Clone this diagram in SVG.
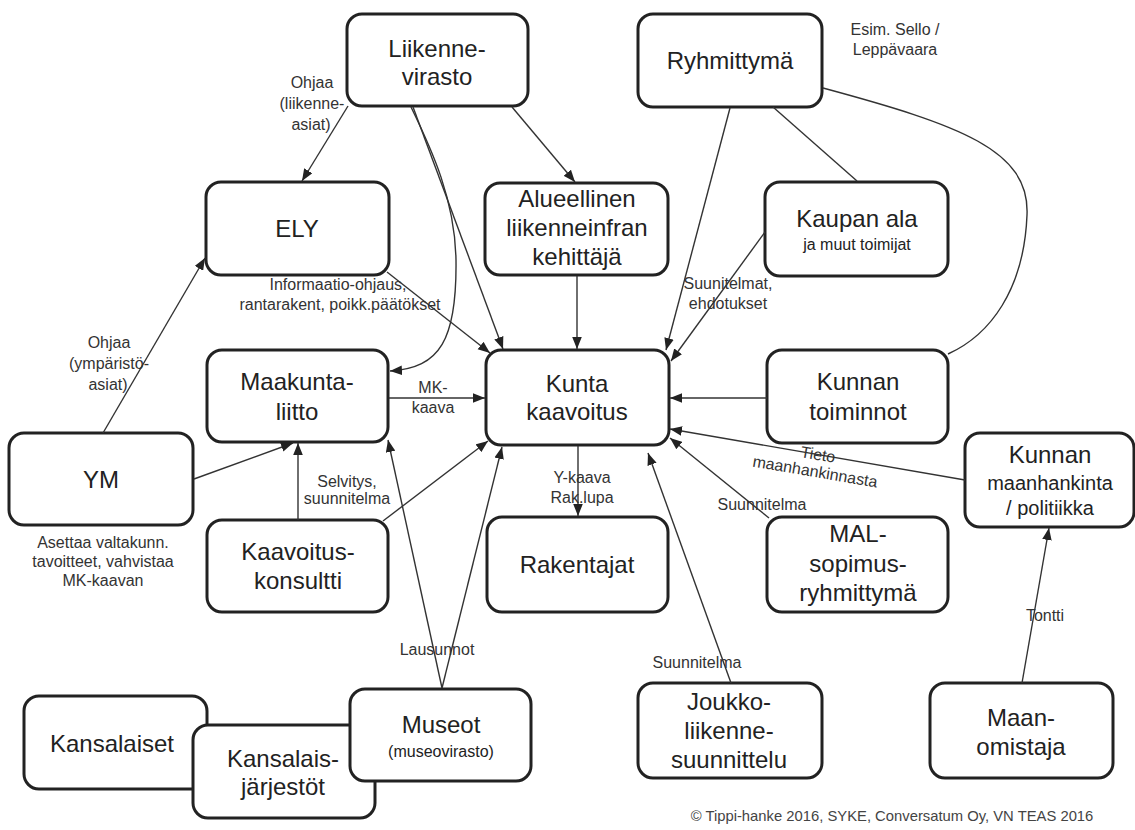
<svg xmlns="http://www.w3.org/2000/svg" width="1135" height="830" viewBox="0 0 1135 830">
<defs>
<style>
.box{fill:#fff;stroke:#222;stroke-width:3}
.t{font-family:"Liberation Sans",Arial,sans-serif;font-size:24px;fill:#222;text-anchor:middle}
.m{font-size:20px}
.s{font-size:16px}
.l{font-family:"Liberation Sans",Arial,sans-serif;font-size:16px;fill:#333;text-anchor:middle}
.e{fill:none;stroke:#333;stroke-width:1.4}
.a{marker-end:url(#arr)}
</style>
<marker id="arr" markerUnits="userSpaceOnUse" markerWidth="12" markerHeight="10" refX="10" refY="4" orient="auto" viewBox="0 0 10 8">
<path d="M0,0 L10,4 L0,8 Z" fill="#222"/>
</marker>
</defs>
<rect width="1135" height="830" fill="#fff"/>

<g id="n-liikennevirasto"><rect class="box" x="347" y="14" width="181" height="92" rx="15"/><text class="t" x="437" y="57">Liikenne-</text><text class="t" x="437" y="85">virasto</text></g>
<g id="n-ryhmittyma"><rect class="box" x="638" y="14" width="184" height="93" rx="15"/><text class="t" x="730" y="69">Ryhmittymä</text></g>
<g id="n-ely"><rect class="box" x="206" y="182" width="183" height="93" rx="15"/><text class="t" x="297" y="237">ELY</text></g>
<g id="n-alueellinen"><rect class="box" x="485" y="183" width="183" height="92" rx="15"/><text class="t" x="577" y="207">Alueellinen</text><text class="t" x="577" y="236">liikenneinfran</text><text class="t" x="577" y="265">kehittäjä</text></g>
<g id="n-kaupan"><rect class="box" x="765" y="182" width="183" height="94" rx="15"/><text class="t" x="857" y="227">Kaupan ala</text><text class="t s" x="857" y="250">ja muut toimijat</text></g>
<g id="n-maakunta"><rect class="box" x="207" y="350" width="181" height="92" rx="15"/><text class="t" x="297" y="390">Maakunta-</text><text class="t" x="297" y="420">liitto</text></g>
<g id="n-kunta"><rect class="box" x="486" y="350" width="183" height="95" rx="15"/><text class="t" x="577" y="392">Kunta</text><text class="t" x="577" y="420">kaavoitus</text></g>
<g id="n-kunnantoiminnot"><rect class="box" x="767" y="350" width="181" height="93" rx="15"/><text class="t" x="858" y="390">Kunnan</text><text class="t" x="858" y="420">toiminnot</text></g>
<g id="n-ym"><rect class="box" x="9" y="433" width="184" height="92" rx="15"/><text class="t" x="101" y="488">YM</text></g>
<g id="n-maanhankinta"><rect class="box" x="965" y="433" width="169" height="94" rx="15"/><text class="t" x="1050" y="463">Kunnan</text><text class="t m" x="1050" y="490">maanhankinta</text><text class="t m" x="1050" y="515">/ politiikka</text></g>
<g id="n-konsultti"><rect class="box" x="207" y="520" width="181" height="92" rx="15"/><text class="t" x="298" y="560">Kaavoitus-</text><text class="t" x="298" y="589">konsultti</text></g>
<g id="n-rakentajat"><rect class="box" x="487" y="517" width="181" height="95" rx="15"/><text class="t" x="577" y="573">Rakentajat</text></g>
<g id="n-mal"><rect class="box" x="767" y="517" width="181" height="95" rx="15"/><text class="t" x="858" y="542">MAL-</text><text class="t" x="858" y="572">sopimus-</text><text class="t" x="858" y="601">ryhmittymä</text></g>
<g id="n-kansalaiset"><rect class="box" x="24" y="696" width="183" height="93" rx="15"/><text class="t" x="112" y="752">Kansalaiset</text></g>
<g id="n-jarjestot"><rect class="box" x="193" y="725" width="182" height="93" rx="15"/><text class="t" x="283" y="767">Kansalais-</text><text class="t" x="283" y="795">järjestöt</text></g>
<g id="n-museot"><rect class="box" x="350" y="689" width="181" height="92" rx="15"/><text class="t" x="441" y="733">Museot</text><text class="t s" x="441" y="757">(museovirasto)</text></g>
<g id="n-joukko"><rect class="box" x="638" y="683" width="184" height="95" rx="15"/><text class="t" x="729" y="710">Joukko-</text><text class="t" x="729" y="739">liikenne-</text><text class="t" x="729" y="768">suunnittelu</text></g>
<g id="n-maanomistaja"><rect class="box" x="930" y="683" width="183" height="95" rx="15"/><text class="t" x="1021" y="726">Maan-</text><text class="t" x="1021" y="755">omistaja</text></g>

<g id="connectors">
<line class="e a" x1="348" y1="106" x2="302" y2="181"/>
<line class="e a" x1="512" y1="107" x2="575" y2="182"/>
<line class="e a" x1="413" y1="107" x2="503" y2="349"/>
<path class="e a" d="M411,107 C432,150 455,200 456,260 C457,340 440,368 390,371"/>
<line class="e a" x1="387" y1="272" x2="490" y2="353"/>
<line class="e a" x1="577" y1="276" x2="577" y2="349"/>
<line class="e a" x1="730" y1="108" x2="666" y2="350"/>
<line class="e" x1="773" y1="107" x2="857" y2="181"/>
<path class="e" d="M823,88 C960,125 1030,150 1027,215 C1024,290 990,335 948,354"/>
<line class="e a" x1="765" y1="232" x2="671" y2="361"/>
<line class="e a" x1="767" y1="398" x2="670" y2="398"/>
<line class="e a" x1="965" y1="480" x2="670" y2="429"/>
<line class="e a" x1="769" y1="518" x2="670" y2="438"/>
<line class="e a" x1="731" y1="683" x2="648" y2="453"/>
<line class="e a" x1="578" y1="446" x2="578" y2="516"/>
<line class="e a" x1="389" y1="398" x2="485" y2="398"/>
<line class="e a" x1="103" y1="433" x2="205" y2="258"/>
<line class="e a" x1="194" y1="479" x2="293" y2="443"/>
<line class="e a" x1="298" y1="520" x2="298" y2="443"/>
<line class="e a" x1="383" y1="521" x2="488" y2="441"/>
<line class="e a" x1="442" y1="688" x2="388" y2="440"/>
<line class="e a" x1="442" y1="688" x2="502" y2="447"/>
<line class="e a" x1="1022" y1="683" x2="1049" y2="528"/>
</g>

<g id="labels">
<text class="l" x="312" y="88">Ohjaa</text>
<text class="l" x="312" y="109">(liikenne-</text>
<text class="l" x="311" y="130">asiat)</text>
<text class="l" x="895" y="35">Esim. Sello /</text>
<text class="l" x="895" y="55">Leppävaara</text>
<text class="l" x="338" y="290">Informaatio-ohjaus,</text>
<text class="l" x="340" y="310">rantarakent, poikk.päätökset</text>
<text class="l" x="728" y="289">Suunitelmat,</text>
<text class="l" x="728" y="309">ehdotukset</text>
<text class="l" x="433" y="393">MK-</text>
<text class="l" x="433" y="413">kaava</text>
<text class="l" x="109" y="348">Ohjaa</text>
<text class="l" x="109" y="369">(ympäristö-</text>
<text class="l" x="108" y="390">asiat)</text>
<text class="l" x="347" y="487">Selvitys,</text>
<text class="l" x="347" y="504">suunnitelma</text>
<text class="l" x="103" y="548">Asettaa valtakunn.</text>
<text class="l" x="103" y="567">tavoitteet, vahvistaa</text>
<text class="l" x="103" y="586">MK-kaavan</text>
<text class="l" x="582" y="483">Y-kaava</text>
<text class="l" x="582" y="503">Rak.lupa</text>
<text class="l" x="818" y="460" transform="rotate(9.6 818 455)">Tieto</text>
<text class="l" x="815" y="477" transform="rotate(9.6 815 472)">maanhankinnasta</text>
<text class="l" x="762" y="510">Suunnitelma</text>
<text class="l" x="697" y="668">Suunnitelma</text>
<text class="l" x="437" y="655">Lausunnot</text>
<text class="l" x="1045" y="621">Tontti</text>
<text class="l" x="892" y="821" style="font-size:14.8px;fill:#444">© Tippi-hanke 2016, SYKE, Conversatum Oy, VN TEAS 2016</text>
</g>
</svg>
